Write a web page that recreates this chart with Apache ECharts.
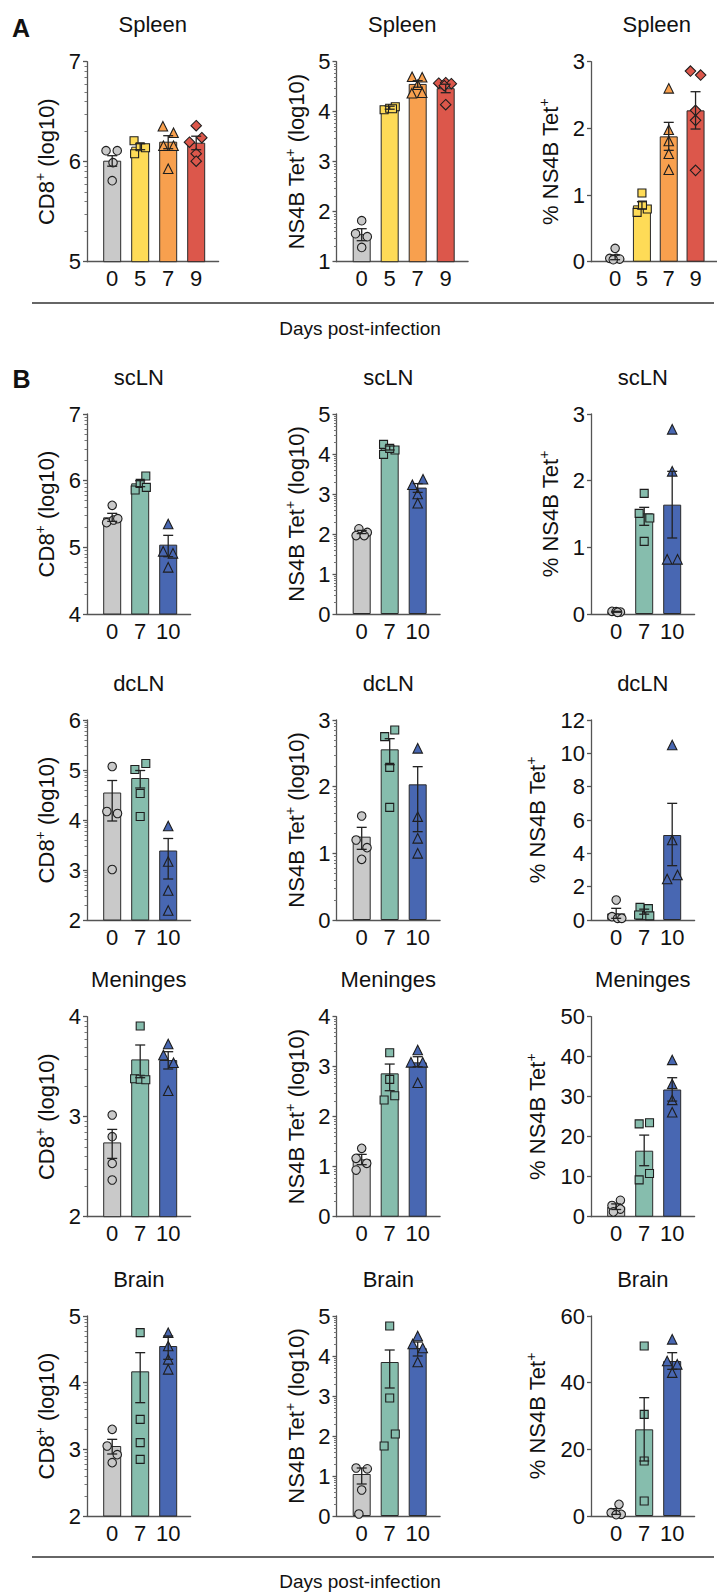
<!DOCTYPE html>
<html><head><meta charset="utf-8">
<script src="https://cdn.jsdelivr.net/npm/echarts@6/dist/echarts.min.js"></script>
<style>html,body{margin:0;padding:0;background:#fff}#c{width:717px;height:1594px}</style>
</head><body><div id="c"></div>
<script>
const FONT = '"Liberation Sans", Arial, Helvetica, sans-serif';
const daysA = ['0','5','7','9'];
const daysB = ['0','7','10'];
const tissueTitles = ['Spleen','scLN','dcLN','Meninges','Brain'];
const axisNames = ['CD8{s|+} (log10)','NS4B Tet{s|+} (log10)','% NS4B Tet{s|+}'];
const xAxisTitle = 'Days post-infection';

// ---- Spleen ----
const spleenCD8Mean = [6.01, 6.15, 6.20, 6.19];
const spleenCD8Hi   = [6.06, 6.18, 6.26, 6.255];
const spleenCD8Lo   = [5.955, 6.12, 6.13, 6.12];
const spleenCD8Pts  = [[6.11,6.11,5.99,5.81],[6.21,6.08,6.15,6.14],[6.355,6.29,6.16,6.16,5.93],[6.36,6.195,6.24,6.08,6.005]];
const spleenCD8Jit  = [[-0.22,0.18,0.03,0],[-0.22,-0.2,0,0.19],[-0.19,0.19,-0.17,0.19,0],[0,-0.24,0.2,0,0]];

const spleenTetMean = [1.55, 4.08, 4.555, 4.47];
const spleenTetHi   = [1.66, 4.11, 4.62, 4.55];
const spleenTetLo   = [1.42, 4.05, 4.49, 4.38];
const spleenTetPts  = [[1.82,1.56,1.50,1.285],[4.04,4.07,4.10,4.06],[4.70,4.69,4.54,4.37,4.38],[4.57,4.58,4.56,4.52,4.14]];
const spleenTetJit  = [[0,-0.22,0.2,0],[-0.2,0,0.2,0.1],[-0.2,0.16,0,-0.21,0.16],[-0.25,0,0.2,-0.05,0]];

const spleenPctMean = [0.065, 0.845, 1.88, 2.27];
const spleenPctHi   = [0.1, 0.9, 2.09, 2.55];
const spleenPctLo   = [0.03, 0.79, 1.67, 1.99];
const spleenPctPts  = [[0.2,0.05,0.05,0.04,0.03],[1.03,0.74,0.79,0.85],[2.60,1.98,1.81,1.62,1.38],[2.86,2.80,2.27,2.12,1.37]];
const spleenPctJit  = [[0,-0.2,0.05,0.17,-0.07],[0,-0.18,0.2,0.02],[0,0,0,0,0],[-0.19,0.19,0,0,0]];

// ---- scLN ----
const sclnCD8Mean = [5.45, 5.96, 5.04];
const sclnCD8Hi   = [5.51, 6.0, 5.18];
const sclnCD8Lo   = [5.39, 5.91, 4.86];
const sclnCD8Pts  = [[5.63,5.37,5.41,5.43],[6.07,5.86,5.96,5.90],[5.35,4.94,4.91,4.70]];
const sclnCD8Jit  = [[0,-0.2,0.05,0.2],[0.2,-0.18,0,0.22],[0,-0.18,0.17,0]];

const sclnTetMean = [2.05, 4.15, 3.16];
const sclnTetHi   = [2.09, 4.2, 3.26];
const sclnTetLo   = [2.01, 4.1, 3.04];
const sclnTetPts  = [[2.13,2.04,1.96,1.96],[4.24,3.99,4.10,4.14],[3.23,3.37,3.0,2.77]];
const sclnTetJit  = [[-0.1,0.2,-0.2,0.09],[-0.22,-0.22,0.19,0],[-0.19,0.19,0,0]];

const sclnPctMean = [0.033, 1.51, 1.64];
const sclnPctHi   = [0.04, 1.6, 2.14];
const sclnPctLo   = [0.026, 1.33, 1.14];
const sclnPctPts  = [[0.04,0.03,0.035,0.025],[1.81,1.51,1.44,1.09],[2.77,2.14,0.82,0.82]];
const sclnPctJit  = [[-0.15,0.15,0,0.05],[0,-0.18,0.2,0],[0,0,-0.18,0.19]];

// ---- dcLN ----
const dclnCD8Mean = [4.55, 4.84, 3.39];
const dclnCD8Hi   = [4.79, 4.99, 3.63];
const dclnCD8Lo   = [3.98, 4.64, 2.82];
const dclnCD8Pts  = [[5.07,4.17,4.13,3.01],[5.01,5.13,4.53,4.07],[3.88,3.17,2.59,2.19]];
const dclnCD8Jit  = [[0,-0.19,0.19,0],[-0.19,0.2,0,0],[0,0,0,0]];

const dclnTetMean = [1.25, 2.56, 2.035];
const dclnTetHi   = [1.39, 2.72, 2.30];
const dclnTetLo   = [1.06, 2.33, 1.325];
const dclnTetPts  = [[1.56,1.20,1.085,0.91],[2.75,2.85,2.29,1.69],[2.575,1.55,1.225,1.0]];
const dclnTetJit  = [[0,-0.2,0.19,0],[-0.18,0.18,0,0],[0,0,0,0]];

const dclnPctMean = [0.4, 0.5, 5.1];
const dclnPctHi   = [0.7, 0.65, 7.0];
const dclnPctLo   = [0.1, 0.35, 3.26];
const dclnPctPts  = [[1.2,0.2,0.1,0.1],[0.76,0.68,0.3,0.25],[10.5,4.8,2.46,2.7]];
const dclnPctJit  = [[0,-0.15,0.05,0.2],[-0.15,0.15,-0.2,0.2],[0,0,-0.18,0.19]];

// ---- Meninges ----
const menCD8Mean = [2.743, 3.573, 3.567];
const menCD8Hi   = [2.873, 3.717, 3.65];
const menCD8Lo   = [2.583, 3.39, 3.477];
const menCD8Pts  = [[3.017,2.8,2.533,2.367],[3.907,3.38,3.375,3.37],[3.727,3.617,3.54,3.26]];
const menCD8Jit  = [[0,0,0,0],[0,-0.2,0,0.2],[0,-0.17,0.19,0]];

const menTetMean = [1.147, 2.867, 3.087];
const menTetHi   = [1.247, 3.053, 3.2];
const menTetLo   = [1.04, 2.52, 3.0];
const menTetPts  = [[1.367,1.167,1.067,0.933],[3.28,2.747,2.333,2.42],[3.333,3.087,3.087,2.68]];
const menTetJit  = [[0,-0.2,0.18,-0.2],[0,0,-0.2,0.18],[0,-0.24,0.18,0]];

const menPctMean = [2.5, 16.5, 31.8];
const menPctHi   = [3.2, 20.4, 34.75];
const menPctLo   = [1.8, 12.75, 28.9];
const menPctPts  = [[4.1,2.8,1.9,1.2],[23.2,23.5,10.8,9.2],[39.2,33.2,29.2,26.1]];
const menPctJit  = [[0.15,-0.15,0.15,-0.1],[-0.18,0.19,0.19,-0.18],[0,0,0,0]];

// ---- Brain ----
const brainCD8Mean = [3.05, 4.17, 4.55];
const brainCD8Hi   = [3.15, 4.45, 4.7];
const brainCD8Lo   = [2.93, 3.7, 4.35];
const brainCD8Pts  = [[3.3,3.05,2.92,2.8],[4.75,3.45,3.1,2.85],[4.75,4.55,4.35,4.2]];
const brainCD8Jit  = [[0,-0.18,0.18,0],[0,0,0,0],[0,0,0,0]];

const brainTetMean = [1.05, 3.85, 4.2];
const brainTetHi   = [1.2, 4.15, 4.35];
const brainTetLo   = [0.8, 3.2, 4.0];
const brainTetPts  = [[1.2,1.18,0.65,0.05],[4.75,2.95,2.05,1.75],[4.5,4.3,4.2,3.85]];
const brainTetJit  = [[-0.2,0.2,0,-0.1],[0,0,0.2,-0.2],[0,-0.18,0.18,0]];

const brainPctMean = [1.3, 26, 46.5];
const brainPctHi   = [2.2, 35.5, 49];
const brainPctLo   = [0.5, 16.5, 44];
const brainPctPts  = [[3.5,1.0,0.5,0.4],[51,30.5,16.5,4.5],[53,46.5,45.5,43]];
const brainPctJit  = [[0.1,-0.18,0.18,0],[0,0,0,0],[0,-0.18,0.18,0]];

// ---- axis ranges [min, max, interval, isLog10] ----
const yRanges = [
  [[5,7,1,true],[1,5,1,true],[0,3,1,false]],
  [[4,7,1,true],[0,5,1,true],[0,3,1,false]],
  [[2,6,1,true],[0,3,1,true],[0,12,2,false]],
  [[2,4,1,true],[0,4,1,true],[0,50,10,false]],
  [[2,5,1,true],[0,5,1,true],[0,60,20,false]]
];

// ---- styles / layout ----
const colorsA = ['#c9c9c9','#fedb57','#f8a04e','#dc574b'];
const colorsB = ['#c9c9c9','#86bdad','#4867b2'];
const shapesA = ['circle','rect','triangle','diamond'];
const shapesB = ['circle','rect','triangle'];
const symSize = {circle:8.5, rect:8, triangle:9.5, diamond:10.5};
const colX = [87, 336.5, 591];
const rowTop = [61.7, 414, 720, 1016.7, 1316];
const PLOT_H = 200, UNIT = 28, AX = '#555', TXT = '#111', FS = 22;

const dataSets = [
  [[spleenCD8Mean,spleenCD8Hi,spleenCD8Lo,spleenCD8Pts,spleenCD8Jit],[spleenTetMean,spleenTetHi,spleenTetLo,spleenTetPts,spleenTetJit],[spleenPctMean,spleenPctHi,spleenPctLo,spleenPctPts,spleenPctJit]],
  [[sclnCD8Mean,sclnCD8Hi,sclnCD8Lo,sclnCD8Pts,sclnCD8Jit],[sclnTetMean,sclnTetHi,sclnTetLo,sclnTetPts,sclnTetJit],[sclnPctMean,sclnPctHi,sclnPctLo,sclnPctPts,sclnPctJit]],
  [[dclnCD8Mean,dclnCD8Hi,dclnCD8Lo,dclnCD8Pts,dclnCD8Jit],[dclnTetMean,dclnTetHi,dclnTetLo,dclnTetPts,dclnTetJit],[dclnPctMean,dclnPctHi,dclnPctLo,dclnPctPts,dclnPctJit]],
  [[menCD8Mean,menCD8Hi,menCD8Lo,menCD8Pts,menCD8Jit],[menTetMean,menTetHi,menTetLo,menTetPts,menTetJit],[menPctMean,menPctHi,menPctLo,menPctPts,menPctJit]],
  [[brainCD8Mean,brainCD8Hi,brainCD8Lo,brainCD8Pts,brainCD8Jit],[brainTetMean,brainTetHi,brainTetLo,brainTetPts,brainTetJit],[brainPctMean,brainPctHi,brainPctLo,brainPctPts,brainPctJit]]
];

const grids=[], xAxes=[], yAxes=[], series=[], graphics=[];
let gi = 0;
dataSets.forEach((row, r) => {
  row.forEach((ds, c) => {
    const [mean, hi, lo, pts, jit] = ds;
    const cats = r === 0 ? daysA : daysB;
    const colors = r === 0 ? colorsA : colorsB;
    const shapes = r === 0 ? shapesA : shapesB;
    const [yMin, yMax, yInt, isLog] = yRanges[r][c];
    const n = cats.length;
    const w = (n - 1 + 1.7) * UNIT;
    const left = colX[c], top = rowTop[r];
    grids.push({left: left, top: top, width: w, height: PLOT_H, containLabel: false});
    xAxes.push({gridIndex: gi, type: 'value', min: -0.9, max: n - 1 + 0.8,
      axisLine: {show: true, onZero: false, lineStyle: {color: AX, width: 1.3}},
      axisTick: {show: false}, splitLine: {show: false},
      axisLabel: {customValues: cats.map((_, k) => k), formatter: v => cats[Math.round(v)],
        fontSize: FS, color: TXT, fontFamily: FONT, margin: 6}});
    const yi = yAxes.length;
    const twoDigit = String(yMax).length > 1;
    yAxes.push({gridIndex: gi, type: 'value', position: 'left', min: yMin, max: yMax, interval: yInt,
      axisLine: {show: true, onZero: false, lineStyle: {color: AX, width: 1.3}},
      axisTick: {show: true, length: 4, lineStyle: {color: AX, width: 1.3}},
      splitLine: {show: false},
      axisLabel: {fontSize: FS, color: TXT, fontFamily: FONT, margin: 6},
      name: axisNames[c], nameLocation: 'middle', nameGap: twoDigit ? 40 : 27,
      nameTextStyle: {fontSize: FS, color: TXT, fontFamily: FONT, lineHeight: 27,
        rich: {s: {fontSize: 14, color: TXT, fontFamily: FONT, verticalAlign: 'top', lineHeight: 14}}}});
    if (isLog) {
      const mv = [];
      for (let d = yMin; d < yMax; d++) for (let k = 2; k <= 9; k++) mv.push(d + Math.log10(k));
      yAxes.push({gridIndex: gi, type: 'value', position: 'left', offset: 0, min: yMin, max: yMax,
        axisLine: {show: false, onZero: false}, axisLabel: {show: false}, splitLine: {show: false},
        axisTick: {show: true, length: 2.5, customValues: mv, lineStyle: {color: '#777', width: 1}}});
    }
    series.push({type: 'bar', xAxisIndex: gi, yAxisIndex: yi, barWidth: 18, z: 2, silent: true,
      data: mean.map((m, j) => ({value: [j, m], itemStyle: {color: colors[j], borderColor: '#2a2a2a', borderWidth: 1}}))});
    const sd = [];
    pts.forEach((g, j) => g.forEach((v, k) => sd.push({value: [j + jit[j][k], v], symbol: shapes[j],
      symbolSize: symSize[shapes[j]], itemStyle: {color: colors[j], borderColor: '#1e1e1e', borderWidth: 1.1, opacity: 1}})));
    series.push({type: 'scatter', xAxisIndex: gi, yAxisIndex: yi, z: 3, silent: true, data: sd});
    series.push({type: 'custom', xAxisIndex: gi, yAxisIndex: yi, z: 4, silent: true,
      data: mean.map((m, j) => [j, hi[j], lo[j]]),
      encode: {x: 0, y: [1, 2]},
      renderItem: (params, api) => {
        const x = api.value(0);
        const t = api.coord([x, api.value(1)]);
        const b = api.coord([x, api.value(2)]);
        const cw = 5;
        const st = {stroke: '#222', lineWidth: 1.3};
        return {type: 'group', children: [
          {type: 'line', shape: {x1: t[0], y1: t[1], x2: b[0], y2: b[1]}, style: st},
          {type: 'line', shape: {x1: t[0]-cw, y1: t[1], x2: t[0]+cw, y2: t[1]}, style: st},
          {type: 'line', shape: {x1: b[0]-cw, y1: b[1], x2: b[0]+cw, y2: b[1]}, style: st}
        ]};
      }});
    graphics.push({type: 'text', x: left + w / 2, y: top - 37,
      style: {text: tissueTitles[r], fontSize: FS, fontFamily: FONT, fill: TXT,
        textAlign: 'center', align: 'center', textVerticalAlign: 'middle', verticalAlign: 'middle'}});
    gi++;
  });
});

function label(txt, x, y, size, weight) {
  return {type: 'text', x: x, y: y, style: {text: txt, fontSize: size, fontWeight: weight || 'normal',
    fontFamily: FONT, fill: TXT, textAlign: 'center', align: 'center', textVerticalAlign: 'middle', verticalAlign: 'middle'}};
}
graphics.push(label('A', 21, 28, 25, 'bold'));
graphics.push(label('B', 21.5, 379, 25, 'bold'));
const lineYs = [303, 1557];
const textYs = [328, 1581];
lineYs.forEach((ly, k) => {
  graphics.push({type: 'line', shape: {x1: 32, y1: ly, x2: 714, y2: ly}, style: {stroke: '#333', lineWidth: 1.3}});
  graphics.push(label(xAxisTitle, 360, textYs[k], 19));
});

const chart = echarts.init(document.getElementById('c'), null, {renderer: 'svg', width: 717, height: 1594});
chart.setOption({animation: false, backgroundColor: '#fff', grid: grids, xAxis: xAxes, yAxis: yAxes, series: series, graphic: graphics});
</script></body></html>
